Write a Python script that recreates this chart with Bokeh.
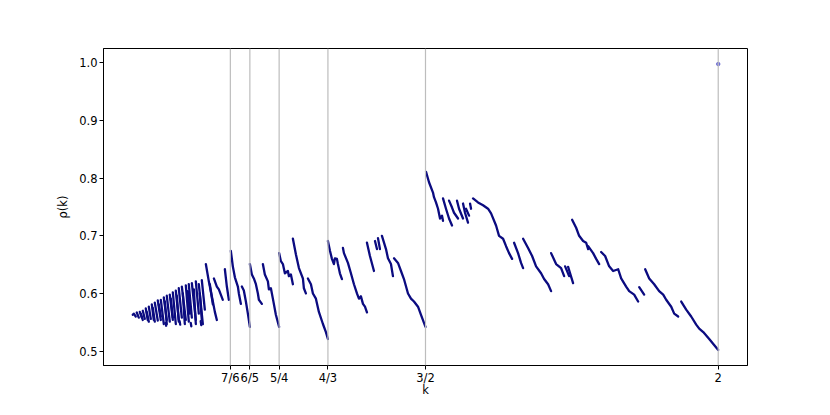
from bokeh.plotting import figure
from bokeh.models import Range1d, FixedTicker, Span
from bokeh.embed import file_html
from bokeh.resources import INLINE

# ---- data (k, rho) ----
tick_vals = [7/6, 6/5, 5/4, 4/3, 3/2, 2.0]
tick_labels = ["7/6", "6/5", "5/4", "4/3", "3/2", "2"]

# cloud of small teeth for 1 <= k < 7/6
cloud_k = [
    [1.0000, 1.0017, 1.0051], [1.0068, 1.0103], [1.0120, 1.0154], [1.0171, 1.0205],
    [1.0222, 1.0256], [1.0274, 1.0308], [1.0325, 1.0359], [1.0376, 1.0427],
    [1.0427, 1.0479], [1.0479, 1.0530], [1.0530, 1.0581], [1.0581, 1.0632],
    [1.0632, 1.0684], [1.0684, 1.0735], [1.0735, 1.0786], [1.0786, 1.0838],
    [1.0838, 1.0906], [1.0906, 1.0957], [1.0957, 1.1009], [1.1009, 1.1077],
    [1.1077, 1.1128], [1.1128, 1.1197], [1.1179, 1.1231],
    [1.1248, 1.1299, 1.1333, 1.1368, 1.1402, 1.1436],
    [1.1385, 1.1436, 1.1470, 1.1538], [1.1316, 1.1368],
    [1.1573, 1.1607, 1.1641],
    [1.0137, 1.0171], [1.0239, 1.0274], [1.0342, 1.0376], [1.0444, 1.0479],
    [1.0547, 1.0581], [1.0650, 1.0684], [1.0752, 1.0786], [1.0855, 1.0889],
    [1.0940, 1.0974], [1.1043, 1.1077], [1.1145, 1.1179],
    [1.0560, 1.0570], [1.0990, 1.1000], [1.1160, 1.1170], [1.0800, 1.0810],
]
cloud_rho = [
    [0.563, 0.565, 0.560], [0.567, 0.558], [0.568, 0.558], [0.570, 0.556],
    [0.574, 0.554], [0.577, 0.556], [0.581, 0.554], [0.584, 0.553],
    [0.588, 0.554], [0.589, 0.547], [0.593, 0.554], [0.596, 0.551],
    [0.598, 0.554], [0.602, 0.547], [0.605, 0.554], [0.609, 0.558],
    [0.612, 0.554], [0.614, 0.551], [0.616, 0.558], [0.618, 0.554],
    [0.621, 0.565], [0.616, 0.547], [0.623, 0.572],
    [0.651, 0.621, 0.604, 0.586, 0.568, 0.554],
    [0.626, 0.612, 0.607, 0.589], [0.616, 0.581],
    [0.642, 0.612, 0.589],
    [0.565, 0.554], [0.568, 0.551], [0.575, 0.551], [0.581, 0.560],
    [0.586, 0.547], [0.591, 0.558], [0.596, 0.551], [0.600, 0.547],
    [0.604, 0.565], [0.607, 0.547], [0.600, 0.554],
    [0.549, 0.544], [0.549, 0.543], [0.552, 0.545], [0.552, 0.546],
]

# teeth between 7/6 and 3/2
mid_k = [
    [1.1675, 1.1709, 1.1744, 1.1795, 1.1812, 1.1846],
    [1.1863, 1.1897, 1.1932, 1.1966, 1.2000],
    [1.2000, 1.2034, 1.2068, 1.2103, 1.2137, 1.2154, 1.2205],
    [1.2222, 1.2256, 1.2308, 1.2325, 1.2359, 1.2393, 1.2444, 1.2500],
    [1.2500, 1.2530, 1.2564, 1.2598, 1.2650, 1.2667, 1.2701, 1.2735],
    [1.2735, 1.2786, 1.2838, 1.2906, 1.2923, 1.2957],
    [1.2991, 1.3043, 1.3077, 1.3128, 1.3179, 1.3248, 1.3299, 1.3333],
    [1.3333, 1.3368, 1.3402, 1.3436, 1.3453, 1.3487, 1.3504, 1.3538, 1.3573],
    [1.3590, 1.3607, 1.3675, 1.3726, 1.3778, 1.3829, 1.3863, 1.3897, 1.3932, 1.3966, 1.4000],
    [1.4000, 1.4051, 1.4120],
    [1.4137, 1.4171], [1.4188, 1.4222],
    [1.4256, 1.4325, 1.4359, 1.4410, 1.4444],
    [1.4462, 1.4530, 1.4581, 1.4632, 1.4701, 1.4752, 1.4803, 1.4872, 1.4923, 1.5000],
]
mid_rho = [
    [0.674, 0.647, 0.628, 0.612, 0.600, 0.582],
    [0.612, 0.605, 0.586, 0.565, 0.542],
    [0.651, 0.633, 0.626, 0.616, 0.600, 0.589, 0.582],
    [0.651, 0.633, 0.621, 0.607, 0.609, 0.591, 0.563, 0.542],
    [0.670, 0.656, 0.651, 0.635, 0.639, 0.630, 0.633, 0.616],
    [0.695, 0.668, 0.644, 0.626, 0.609, 0.600],
    [0.626, 0.616, 0.600, 0.591, 0.568, 0.547, 0.533, 0.521],
    [0.691, 0.674, 0.660, 0.651, 0.661, 0.660, 0.651, 0.635, 0.625],
    [0.679, 0.670, 0.653, 0.635, 0.616, 0.600, 0.591, 0.595, 0.582, 0.577, 0.567],
    [0.688, 0.665, 0.639],
    [0.691, 0.677], [0.696, 0.677],
    [0.700, 0.677, 0.661, 0.651, 0.630],
    [0.661, 0.653, 0.639, 0.625, 0.600, 0.591, 0.586, 0.577, 0.563, 0.542],
]

# teeth between 3/2 and 2
high_k = [
    [1.5009, 1.5060, 1.5128, 1.5145, 1.5179, 1.5214, 1.5248, 1.5282, 1.5299],
    [1.5299, 1.5350, 1.5402, 1.5453],
    [1.5402, 1.5453, 1.5487, 1.5556],
    [1.5538, 1.5573, 1.5641],
    [1.5641, 1.5675, 1.5726],
    [1.5692, 1.5744], [1.5761, 1.5778],
    [1.5812, 1.5897, 1.5983, 1.6068, 1.6120, 1.6205, 1.6256, 1.6325, 1.6376, 1.6427, 1.6479],
    [1.6513, 1.6581, 1.6632, 1.6667],
    [1.6667, 1.6752, 1.6821, 1.6889, 1.6974, 1.7026, 1.7094, 1.7145],
    [1.7145, 1.7231, 1.7316, 1.7368],
    [1.7385, 1.7453], [1.7436, 1.7521],
    [1.7504, 1.7573, 1.7624, 1.7692, 1.7744, 1.7778],
    [1.7778, 1.7863, 1.7915, 1.7966],
    [1.8000, 1.8068, 1.8137, 1.8205, 1.8291, 1.8342, 1.8427, 1.8479, 1.8564, 1.8632],
    [1.8650, 1.8735],
    [1.8752, 1.8821, 1.8906, 1.8991, 1.9060, 1.9111, 1.9197, 1.9248, 1.9316],
    [1.9368, 1.9453, 1.9538, 1.9624, 1.9675, 1.9744, 1.9846, 2.0000],
]
high_rho = [
    [0.811, 0.793, 0.775, 0.767, 0.758, 0.747, 0.730, 0.735, 0.726],
    [0.765, 0.747, 0.730, 0.718],
    [0.761, 0.749, 0.740, 0.730],
    [0.761, 0.747, 0.730],
    [0.756, 0.740, 0.723],
    [0.747, 0.735], [0.756, 0.747],
    [0.765, 0.758, 0.753, 0.747, 0.739, 0.718, 0.700, 0.695, 0.682, 0.670, 0.660],
    [0.688, 0.670, 0.653, 0.644],
    [0.695, 0.679, 0.665, 0.647, 0.635, 0.625, 0.616, 0.604],
    [0.670, 0.651, 0.644, 0.630],
    [0.647, 0.630], [0.646, 0.618],
    [0.728, 0.714, 0.700, 0.691, 0.688, 0.677],
    [0.682, 0.670, 0.660, 0.651],
    [0.672, 0.665, 0.647, 0.639, 0.642, 0.626, 0.612, 0.604, 0.598, 0.586],
    [0.611, 0.598],
    [0.642, 0.626, 0.616, 0.604, 0.598, 0.589, 0.577, 0.565, 0.560],
    [0.586, 0.572, 0.560, 0.546, 0.539, 0.533, 0.521, 0.502],
]

single_k = [2.0]
single_rho = [0.998]

FONT = "DejaVu Sans"

p = figure(width=814, height=405, output_backend="svg", toolbar_location=None,
           x_range=Range1d(0.95, 2.05), y_range=Range1d(0.475, 1.025),
           min_border_left=103, min_border_right=67, min_border_top=48, min_border_bottom=40)
p.background_fill_color = "white"
p.border_fill_color = "white"
p.outline_line_color = "black"
p.outline_line_width = 1
p.grid.visible = False

for v in tick_vals:
    p.add_layout(Span(location=v, dimension="height", line_color="#bdbdbd", line_width=1.2))

all_k = cloud_k + mid_k + high_k
all_rho = cloud_rho + mid_rho + high_rho
p.multi_line(all_k, all_rho, line_color="#0b0b80", line_width=2.3, line_join="round", line_cap="round")
p.scatter(single_k, single_rho, size=3.5, color="#5a5ad0", alpha=0.8)

p.xaxis.ticker = FixedTicker(ticks=tick_vals)
p.xaxis.major_label_overrides = {v: s for v, s in zip(tick_vals, tick_labels)}
p.yaxis.ticker = FixedTicker(ticks=[0.5, 0.6, 0.7, 0.8, 0.9, 1.0])
p.yaxis.major_label_overrides = {0.5: "0.5", 0.6: "0.6", 0.7: "0.7", 0.8: "0.8", 0.9: "0.9", 1.0: "1.0"}
p.xaxis.axis_label = "k"
p.yaxis.axis_label = "ρ(k)"
for ax in (p.xaxis, p.yaxis):
    ax.axis_label_text_font = FONT
    ax.axis_label_text_font_size = "11.5px"
    ax.axis_label_text_font_style = "normal"
    ax.axis_label_text_color = "black"
    ax.major_label_text_font = FONT
    ax.major_label_text_font_size = "11.5px"
    ax.major_label_text_color = "black"
    ax.axis_line_color = "black"
    ax.major_tick_line_color = "black"
    ax.major_tick_out = 4
    ax.major_tick_in = 0
    ax.minor_tick_out = 0
    ax.minor_tick_in = 0
p.xaxis.major_label_standoff = 1
p.yaxis.major_label_standoff = 2
p.xaxis.axis_label_standoff = -5
p.yaxis.axis_label_standoff = 6

open("out.html", "w").write(file_html(p, INLINE))
